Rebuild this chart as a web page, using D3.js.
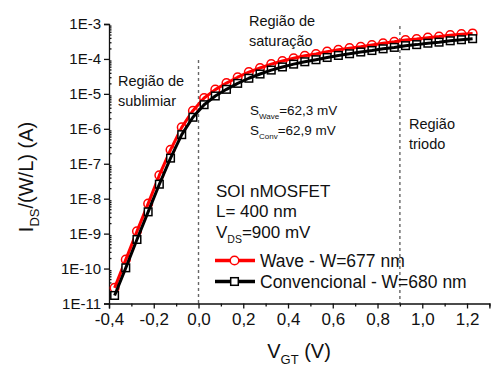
<!DOCTYPE html>
<html>
<head>
<meta charset="utf-8">
<script src="https://cdn.jsdelivr.net/npm/d3@7"></script>
<style>
  body { margin: 0; background: #fff; }
  text { font-family: Arial, "Liberation Sans", sans-serif; fill: #111; }
</style>
</head>
<body>
<div id="chart"></div>
<script>
const width = 491;
const height = 374;

// gate voltage (V)
const vgt = [-0.375, -0.325, -0.275, -0.225, -0.175, -0.125, -0.075, -0.025,
  0.025, 0.075, 0.125, 0.175, 0.225, 0.275, 0.325, 0.375, 0.425, 0.475, 0.525,
  0.575, 0.625, 0.675, 0.725, 0.775, 0.825, 0.875, 0.925, 0.975, 1.025, 1.075,
  1.125, 1.175, 1.225];

// IDS/(W/L) in A
const wave = [2.8e-11, 1.8e-10, 1.17e-9, 7.2e-9, 4.7e-8, 2.5e-7, 1.1e-6, 3.3e-6,
  7.6e-6, 1.32e-5, 2.04e-5, 3.0e-5, 4.2e-5, 5.5e-5, 7.1e-5, 8.7e-5, 1.05e-4,
  1.23e-4, 1.38e-4, 1.62e-4, 1.82e-4, 2.04e-4, 2.24e-4, 2.51e-4, 2.82e-4,
  3.09e-4, 3.47e-4, 3.72e-4, 4.07e-4, 4.37e-4, 4.79e-4, 5.13e-4, 5.37e-4];

const conv = [1.7e-11, 1.05e-10, 6.8e-10, 4.2e-9, 2.6e-8, 1.45e-7, 6.8e-7, 2.14e-6,
  4.9e-6, 8.7e-6, 1.35e-5, 2.0e-5, 2.8e-5, 3.7e-5, 4.8e-5, 5.9e-5, 7.1e-5,
  8.3e-5, 9.5e-5, 1.10e-4, 1.26e-4, 1.41e-4, 1.58e-4, 1.74e-4, 1.95e-4,
  2.14e-4, 2.40e-4, 2.57e-4, 2.82e-4, 3.02e-4, 3.31e-4, 3.55e-4, 3.80e-4];

const xTicks = [-0.4, -0.2, 0.0, 0.2, 0.4, 0.6, 0.8, 1.0, 1.2];
const xTickLabels = ["-0,4", "-0,2", "0,0", "0,2", "0,4", "0,6", "0,8", "1,0", "1,2"];
const yTicks = [1e-3, 1e-4, 1e-5, 1e-6, 1e-7, 1e-8, 1e-9, 1e-10, 1e-11];
const yTickLabels = ["1E-3", "1E-4", "1E-5", "1E-6", "1E-7", "1E-8", "1E-9", "1E-10", "1E-11"];
const regionLines = [0.0, 0.9];

const svg = d3.select("#chart").append("svg")
  .attr("width", width)
  .attr("height", height);

const x = d3.scaleLinear().domain([-0.4, 1.3]).range([109, 489.4]);
const y = d3.scaleLog().domain([1e-11, 1e-3]).range([303.5, 24]);

// region dividers
svg.selectAll(".divider")
  .data(regionLines)
  .join("line")
  .attr("class", "divider")
  .attr("x1", d => x(d))
  .attr("x2", d => x(d))
  .attr("y1", (d, i) => (i === 0 ? 60 : 26))
  .attr("y2", y(1e-11))
  .attr("stroke", "#666")
  .attr("stroke-width", 1.4)
  .attr("stroke-dasharray", "3,3");

// x axis: majors and minors outward
const xMinor = d3.range(-0.3, 1.31, 0.2);
const gx = svg.append("g").attr("transform", `translate(0,${y(1e-11)})`);
gx.call(d3.axisBottom(x).tickValues(xTicks).tickSize(5).tickPadding(4)
  .tickFormat((d, i) => xTickLabels[i]));
gx.append("g").call(d3.axisBottom(x).tickValues(xMinor).tickSize(3).tickFormat(""))
  .select(".domain").remove();
gx.selectAll("text").style("font-size", "17px").attr("fill", "#111");
gx.selectAll("path, line").attr("stroke", "#111").attr("stroke-width", 1.3);

// y axis: majors outward, minors inward
const yMinor = [];
yTicks.slice(1).forEach(t => { for (let k = 2; k <= 9; k++) yMinor.push(t * k); });
const gy = svg.append("g").attr("transform", `translate(${x(-0.4)},0)`);
gy.call(d3.axisLeft(y).tickValues(yTicks).tickSize(5).tickPadding(3)
  .tickFormat((d, i) => yTickLabels[i]));
gy.append("g").call(d3.axisRight(y).tickValues(yMinor).tickSize(2.5).tickFormat(""))
  .select(".domain").remove();
gy.selectAll("text").style("font-size", "15px").attr("fill", "#111");
gy.selectAll("path, line").attr("stroke", "#111").attr("stroke-width", 1.3);

// series
const series = [
  { name: "wave", values: wave, color: "#ff0000", symbol: "circle" },
  { name: "conv", values: conv, color: "#000000", symbol: "square" }
];

const line = d3.line().x(d => x(d[0])).y(d => y(d[1]));

function drawMarker(g, sym, color) {
  if (sym === "circle") {
    g.append("circle").attr("r", 4.3)
      .attr("fill", "#fff").attr("stroke", color).attr("stroke-width", 1.5);
  } else {
    g.append("rect").attr("x", -3.8).attr("y", -3.8).attr("width", 7.6).attr("height", 7.6)
      .attr("fill", "#fff").attr("stroke", color).attr("stroke-width", 1.5);
  }
}

series.forEach(s => {
  const pts = vgt.map((v, i) => [v, s.values[i]]);
  const marks = svg.append("g").attr("class", s.name);
  marks.selectAll("g.pt")
    .data(pts)
    .join("g")
    .attr("class", "pt")
    .attr("transform", d => `translate(${x(d[0])},${y(d[1])})`)
    .each(function () { drawMarker(d3.select(this), s.symbol, s.color); });
  svg.append("path")
    .datum(pts)
    .attr("d", line)
    .attr("fill", "none")
    .attr("stroke", s.color)
    .attr("stroke-width", 3)
    .attr("stroke-linejoin", "round");
});

// annotations
function label(lines, x0, y0, size, dy) {
  const t = svg.append("text").attr("x", x0).attr("y", y0).style("font-size", size + "px");
  lines.forEach((l, i) => t.append("tspan").attr("x", x0).attr("y", y0 + i * dy).text(l));
}
label(["Região de", "sublimiar"], 118, 86, 14.5, 20);
label(["Região de", "saturação"], 249, 26, 14.5, 20);
label(["Região", "triodo"], 409, 129, 14.5, 20);

function subLabel(main, sub, rest, x0, y0, size, subSize) {
  const t = svg.append("text").attr("x", x0).attr("y", y0).style("font-size", size + "px");
  t.append("tspan").text(main);
  t.append("tspan").attr("dy", size * 0.3).style("font-size", subSize + "px").text(sub);
  t.append("tspan").attr("dy", -size * 0.3).text(rest);
}
subLabel("S", "Wave", "=62,3 mV", 250, 115, 13.5, 8);
subLabel("S", "Conv", "=62,9 mV", 250, 135, 13.5, 8);

label(["SOI nMOSFET", "L= 400 nm"], 216, 197, 17, 20);
subLabel("V", "DS", "=900 mV", 216, 238, 17, 10.5);

// legend
const legendRows = [
  { text: "Wave - W=677 nm", s: series[0], yy: 260.5 },
  { text: "Convencional - W=680 nm", s: series[1], yy: 281.5 }
];
legendRows.forEach(r => {
  svg.append("line").attr("x1", 215).attr("x2", 255).attr("y1", r.yy).attr("y2", r.yy)
    .attr("stroke", r.s.color).attr("stroke-width", 3.5);
  const g = svg.append("g").attr("transform", `translate(234.5,${r.yy})`);
  drawMarker(g, r.s.symbol, r.s.color);
  svg.append("text").attr("x", 260).attr("y", r.yy + 6).style("font-size", "17.5px").text(r.text);
});

// axis titles
const yt = svg.append("text")
  .attr("transform", "translate(33,177) rotate(-90)")
  .attr("text-anchor", "middle")
  .style("font-size", "20px");
yt.append("tspan").text("I");
yt.append("tspan").attr("dy", 6).style("font-size", "13px").text("DS");
yt.append("tspan").attr("dy", -6).text("/(W/L) (A)");

const xt = svg.append("text")
  .attr("x", 299).attr("y", 358)
  .attr("text-anchor", "middle")
  .style("font-size", "20px");
xt.append("tspan").text("V");
xt.append("tspan").attr("dy", 6).style("font-size", "13px").text("GT");
xt.append("tspan").attr("dy", -6).text(" (V)");
</script>
</body>
</html>
